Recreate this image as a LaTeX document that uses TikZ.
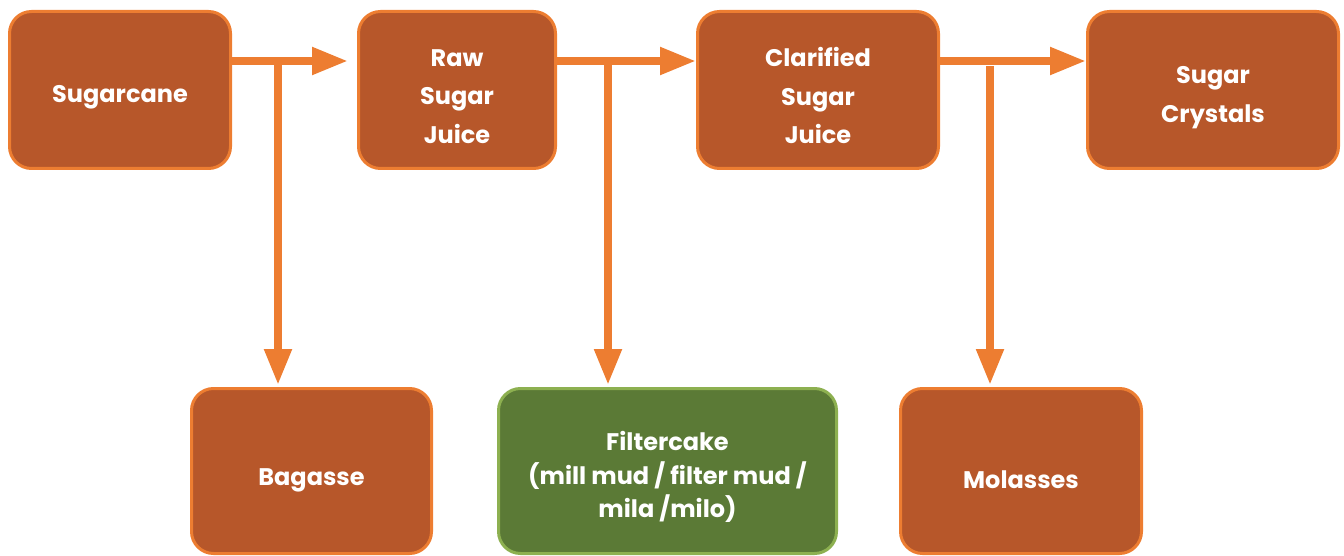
\documentclass[tikz,border=0pt]{standalone}
\usepackage{fontspec}
\setmainfont{Poppins}
\usetikzlibrary{arrows.meta}
\definecolor{boxrust}{HTML}{B7572A}
\definecolor{lineorange}{HTML}{ED7D31}
\definecolor{boxgreen}{HTML}{5B7A36}
\definecolor{edgegreen}{HTML}{8DB050}
\newcommand{\toppad}[1]{\rule{0pt}{#1}}

\begin{document}
\begin{tikzpicture}[x=1pt,y=-1pt]
    \tikzstyle{every node}=[font=\fontsize{24}{38.5}\selectfont\bfseries, text=white]
    \tikzstyle{stage}=[draw=lineorange, fill=boxrust, line width=3pt,
        rounded corners=22pt, align=center, inner sep=0pt]
    \tikzstyle{residue}=[stage, draw=edgegreen, fill=boxgreen,
        font=\fontsize{24}{33.5}\selectfont\bfseries]
    \tikzstyle{flow}=[draw=lineorange, line width=8pt,
        -{Triangle[length=36pt,width=26pt]}]
    \useasboundingbox (0,0) rectangle (1344,556);

    \node[stage, minimum width=221pt, minimum height=157pt] (sugarcane)
        at (120,90) {\toppad{32pt}Sugarcane};
    \node[stage, minimum width=197pt, minimum height=157pt] (rawjuice)
        at (457,90) {\toppad{30pt}Raw\\Sugar\\Juice};
    \node[stage, minimum width=241pt, minimum height=157pt] (clearjuice)
        at (818,90) {\toppad{31pt}Clarified\\Sugar\\Juice};
    \node[stage, minimum width=251pt, minimum height=157pt] (crystals)
        at (1213,90) {\toppad{32pt}Sugar\\Crystals};

    \node[stage, minimum width=240pt, minimum height=165pt] (bagasse)
        at (311.5,471) {\toppad{36pt}Bagasse};
    \node[residue, minimum width=338pt, minimum height=165pt] (filtercake)
        at (667.5,471) {\toppad{32pt}Filtercake\\(mill mud / filter mud /\\mila /milo)};
    \node[stage, minimum width=241pt, minimum height=165pt] (molasses)
        at (1021,471) {\toppad{35pt}Molasses};

    \coordinate (split1) at (278,61);
    \coordinate (split2) at (608,61);
    \coordinate (split3) at (990,61);

    \draw[flow, shorten >=9pt] (sugarcane.east |- split1) -- (rawjuice.west |- split1);
    \draw[flow] (rawjuice.east |- split2) -- (clearjuice.west |- split2);
    \draw[flow] (clearjuice.east |- split3) -- (crystals.west |- split3);

    \draw[flow, shorten >=2pt] (split1) -- (bagasse.north -| split1);
    \draw[flow, shorten >=2pt] (split2) -- (filtercake.north -| split2);
    \draw[flow, shorten >=2pt] ([yshift=-5pt]split3) -- (molasses.north -| split3);

\end{tikzpicture}
\end{document}
